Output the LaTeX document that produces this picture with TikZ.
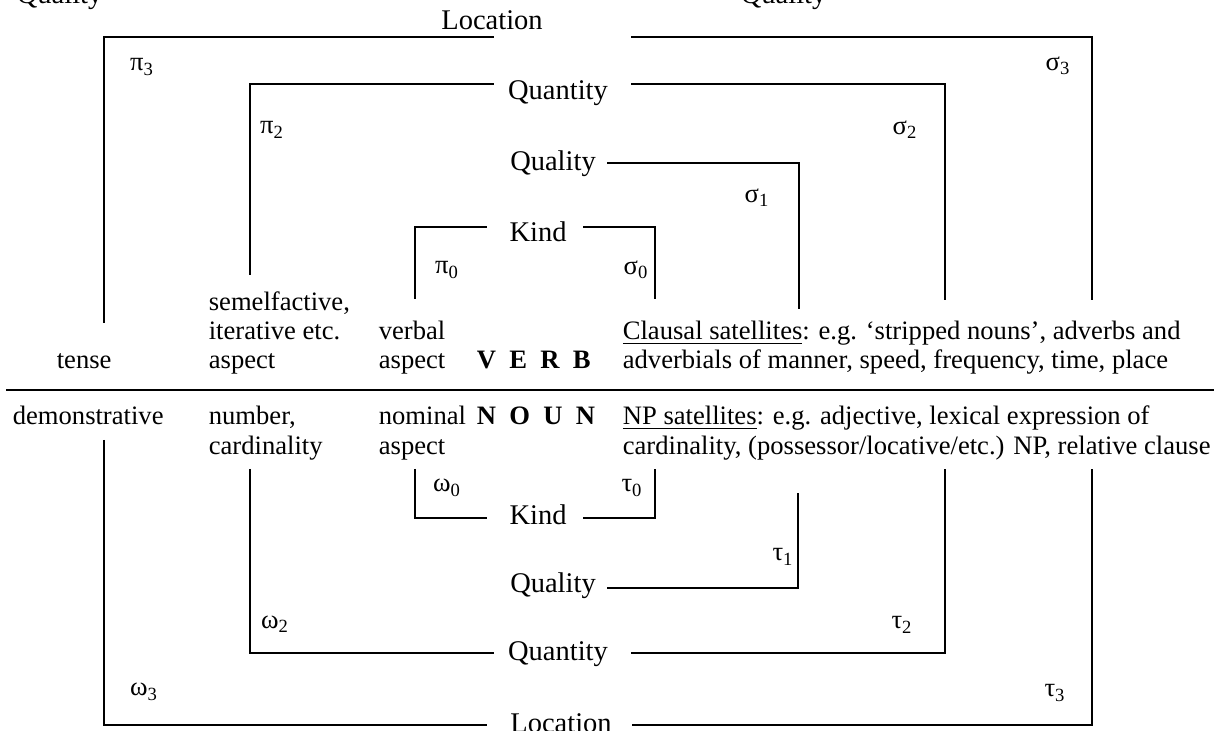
\documentclass[tikz,border=0pt]{standalone}
\usepackage{fontspec}
\setmainfont{Liberation Serif}
\usetikzlibrary{positioning}

\begin{document}
\begin{tikzpicture}[x=0.5pt, y=-0.5pt, line width=0.85pt,
  font=\fontsize{13.3}{15}\selectfont,
  txt/.style={anchor=base west, inner sep=0pt},
  tier/.style={anchor=base, inner sep=0pt, font=\fontsize{14.25}{16}\selectfont},
  op/.style={inner sep=0pt}]
  \useasboundingbox (0,0) rectangle (1221,731);
  \clip (0,0) rectangle (1221,731);

  % --- remnants cut by the top edge
  \node[tier, anchor=base west] (qtopA) at (16,4)  {Quality};
  \node[tier, anchor=base west] (qtopB) at (740,4) {Quality};

  % --- verb half: tiers and their brackets
  \node[tier] (locT)  at (492,30)  {Location};
  \node[tier] (qtyT)  at (558,100) {Quantity};
  \node[tier] (qlT)   at (553,171) {Quality};
  \node[tier] (kindT) at (538,242) {Kind};

  \coordinate (p3) at (104,323);  \coordinate (locTl) at (494,37);
  \coordinate (locTr) at (631,37); \coordinate (s3) at (1092,300);
  \coordinate (p2) at (250,275);  \coordinate (qtyTl) at (494,84);
  \coordinate (qtyTr) at (631,84); \coordinate (s2) at (945,300);
  \coordinate (qlTr) at (607,163); \coordinate (s1) at (799,309);
  \coordinate (p0) at (415,299);  \coordinate (kindTl) at (487,227);
  \coordinate (kindTr) at (583,227); \coordinate (s0) at (655,299);

  \draw (p3) |- (locTl);   \draw (locTr) -| (s3);
  \draw (p2) |- (qtyTl);   \draw (qtyTr) -| (s2);
  \draw (qlTr) -| (s1);
  \draw (p0) |- (kindTl);  \draw (kindTr) -| (s0);

  \node[op] (pi3) at (142,67)  {π\textsubscript{3}};
  \node[op] (sg3) at (1058,66) {σ\textsubscript{3}};
  \node[op] (pi2) at (272,130) {π\textsubscript{2}};
  \node[op] (sg2) at (905,130) {σ\textsubscript{2}};
  \node[op] (sg1) at (757,198) {σ\textsubscript{1}};
  \node[op] (pi0) at (447,270) {π\textsubscript{0}};
  \node[op] (sg0) at (636,270) {σ\textsubscript{0}};

  % --- category labels
  \node[txt] (sem1) at (208,311) {semelfactive,};
  \node[txt] (sem2) at (208,340) {iterative etc.};
  \node[txt] (sem3) at (208,369) {aspect};
  \node[txt] (tense) at (56,369) {tense};
  \node[txt] (vasp1) at (378,340) {verbal};
  \node[txt] (vasp2) at (378,369) {aspect};
  \node[txt] (verb) at (476,369) {\textbf{V\ \ E\ \ R\ \ B}};
  \node[txt] (csat1) at (622,340) {\underline{Clausal satellites}: e.g. `stripped nouns', adverbs and};
  \node[txt] (csat2) at (622,369) {adverbials of manner, speed, frequency, time, place};

  \coordinate (divL) at (6,390); \coordinate (divR) at (1214,390);
  \draw (divL) -- (divR);

  \node[txt] (dem) at (12,425) {demonstrative};
  \node[txt] (num1) at (208,425) {number,};
  \node[txt] (num2) at (208,455) {cardinality};
  \node[txt] (nasp1) at (378,425) {nominal};
  \node[txt] (nasp2) at (378,455) {aspect};
  \node[txt] (noun) at (476,425) {\textbf{N\ \ O\ \ U\ \ N}};
  \node[txt] (nsat1) at (622,425) {\underline{NP satellites}: e.g. adjective, lexical expression of};
  \node[txt] (nsat2) at (622,455) {cardinality, (possessor/locative/etc.) NP, relative clause};

  % --- noun half: tiers and their brackets
  \node[tier] (kindB) at (538,525) {Kind};
  \node[tier] (qlB)   at (553,593) {Quality};
  \node[tier] (qtyB)  at (558,661) {Quantity};
  \node[tier] (locB)  at (561,733) {Location};

  \coordinate (w0) at (415,469);  \coordinate (kindBl) at (487,518);
  \coordinate (kindBr) at (583,518); \coordinate (t0) at (655,469);
  \coordinate (qlBr) at (607,588); \coordinate (t1) at (798,493);
  \coordinate (w2) at (250,469);  \coordinate (qtyBl) at (494,653);
  \coordinate (qtyBr) at (631,653); \coordinate (t2) at (945,469);
  \coordinate (w3) at (104,440);  \coordinate (locBl) at (487,725);
  \coordinate (locBr) at (632,725); \coordinate (t3) at (1092,469);

  \draw (w0) |- (kindBl);  \draw (kindBr) -| (t0);
  \draw (qlBr) -| (t1);
  \draw (w2) |- (qtyBl);   \draw (qtyBr) -| (t2);
  \draw (w3) |- (locBl);   \draw (locBr) -| (t3);

  \node[op] (om0) at (447,488) {ω\textsubscript{0}};
  \node[op] (ta0) at (632,488) {τ\textsubscript{0}};
  \node[op] (ta1) at (783,557) {τ\textsubscript{1}};
  \node[op] (om2) at (275,624) {ω\textsubscript{2}};
  \node[op] (ta2) at (902,625) {τ\textsubscript{2}};
  \node[op] (om3) at (144,692) {ω\textsubscript{3}};
  \node[op] (ta3) at (1055,693) {τ\textsubscript{3}};
\end{tikzpicture}
\end{document}
